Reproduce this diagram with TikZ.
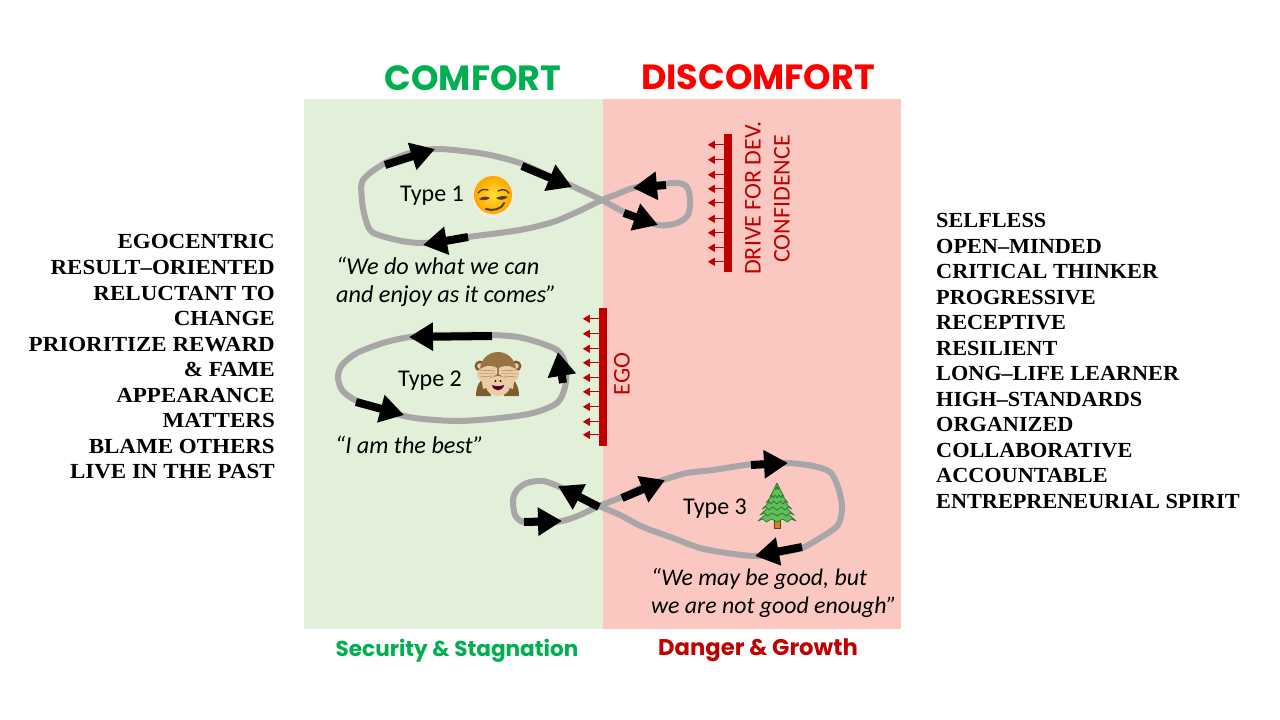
\documentclass[tikz,border=0pt]{standalone}
\usepackage{fontspec}
\usetikzlibrary{arrows.meta}
\setmainfont{Carlito}
\newfontfamily\headfont{Poppins}
\newfontfamily\listfontL[FakeStretch=1.07]{Liberation Serif Bold}
\newfontfamily\listfontR[FakeStretch=1.035]{Liberation Serif Bold}
\definecolor{panelgreen}{HTML}{E2F0D9}
\definecolor{panelred}{HTML}{FBC8C1}
\definecolor{okgreen}{HTML}{00B050}
\definecolor{darkred}{HTML}{C00000}
\definecolor{loopgrey}{HTML}{A8A6A6}
\definecolor{fur}{HTML}{9A7342}
\definecolor{furdark}{HTML}{7F5C30}
\definecolor{skin}{HTML}{EBCDA5}
\definecolor{treelight}{HTML}{62BF55}
\definecolor{treedark}{HTML}{2F7A3A}
\definecolor{faceink}{HTML}{5A3A12}
\tikzset{
  x=1pt,y=-1pt,
  loopline/.style={draw=loopgrey,line width=6pt,line join=round,line cap=round},
  blackarrow/.style={draw=black,line width=8pt,-{Triangle[length=24pt,width=27pt]}},
  redarrow/.style={draw=darkred,line width=1pt,-{Triangle[length=7pt,width=8pt]}},
  redbar/.style={fill=darkred,draw=none,inner sep=0pt,minimum width=8pt},
  typelabel/.style={font=\fontsize{24}{26}\selectfont,inner sep=0pt},
  quotelabel/.style={font=\fontsize{24.2}{28.5}\selectfont\itshape,anchor=west,align=left,inner sep=0pt},
  listlabel/.style={font=\fontsize{21.5}{25.55}\selectfont,inner sep=0pt},
  headlabel/.style={font=\fontsize{35}{37}\selectfont\headfont\bfseries,inner sep=0pt},
  footlabel/.style={font=\headfont\bfseries,inner sep=0pt},
  barlabel/.style={font=\fontsize{24}{26}\selectfont,text=darkred,rotate=90,inner sep=0pt},
}
\begin{document}
\begin{tikzpicture}
\useasboundingbox[fill=white] (0,0) rectangle (1280,720);
\fill[panelgreen] (304,99) rectangle (603,629);
\fill[panelred] (603,99) rectangle (901,629);

\node[headlabel,text=okgreen] (comfort) at (473,78) {COMFORT};
\node[headlabel,text=red] (discomfort) at (758,77) {DISCOMFORT};
\node[footlabel,text=okgreen] (security) at (457,651) {\fontsize{21.6}{24}\selectfont Security \& Stagnation};
\node[footlabel,text=darkred] (danger) at (758,650) {\fontsize{22.7}{24}\selectfont Danger \& Growth};

% Type 1 loop
\draw[loopline] plot[smooth,tension=0.5] coordinates {
 (602,200)(630,215)(658,225)(677,223)(688,215)(690,200)(687,187)(677,183)(653,185)(633,188)(615,195)
 (602,200)(577,212)(553,222)(520,230)(468,237)(443,241)(420,243)(397,240)(372,232)(365,217)(362,200)
 (363,180)(385,163)(413,152)(437,149)(463,151)(490,155)(520,163)(547,175)(572,186)(602,200)};
\draw[blackarrow] (385,165) -- (435,149);
\draw[blackarrow] (522,166) -- (572,187);
\draw[blackarrow] (624,213) -- (658,225);
\draw[blackarrow] (666,185) -- (633,188);
\draw[blackarrow] (468,237) -- (423,245);

% Type 2 loop
\draw[loopline] plot[smooth cycle,tension=0.5] coordinates {
 (338,377)(342,365)(357,353)(383,343)(410,337)(443,335)(492,335)(523,338)(557,350)(566,367)(565,387)
 (557,403)(533,413)(500,418)(460,421)(423,419)(400,415)(377,407)(355,400)(342,390)};
\draw[blackarrow] (492,336) -- (409,337);
\draw[blackarrow] (563,383) -- (558,352);
\draw[blackarrow] (356,402) -- (404,415);

% Type 3 loop
\draw[loopline] plot[smooth,tension=0.5] coordinates {
 (599,506)(620,515)(643,527)(673,538)(700,548)(727,553)(755,556)(780,553)(802,548)(820,538)(838,525)
 (842,507)(838,487)(830,472)(813,466)(787,463)(753,464)(713,470)(687,473)(663,480)(640,488)(622,497)
 (599,506)(580,515)(562,521)(540,523)(523,522)(515,515)(513,500)(517,490)(527,483)(543,481)(560,487)
 (580,497)(599,506)};
\draw[blackarrow] (622,498) -- (665,480);
\draw[blackarrow] (751,465) -- (788,463);
\draw[blackarrow] (802,547) -- (755,556);
\draw[blackarrow] (599,507) -- (558,486);
\draw[blackarrow] (524,522) -- (562,521);

% Bars
\node[redbar,minimum height=138pt] (egobar) at (603,377) {};
\node[redbar,minimum height=138pt] (drivebar) at (728,203) {};
\foreach \d in {11,26,41,55,70,84,99,114,127}
  \draw[redarrow] ([yshift=-\d pt]egobar.north west) -- ++(-16,0);
\foreach \d in {11,26,41,55,69,85,99,114,128}
  \draw[redarrow] ([yshift=-\d pt]drivebar.north west) -- ++(-16,0);
\node[barlabel] (ego) at (622,374) {EGO};
\node[barlabel] (drive) at (753,198) {DRIVE FOR DEV.};
\node[barlabel] (confidence) at (782,199) {CONFIDENCE};

% Labels
\node[typelabel] (t1) at (432,196) {Type 1};
\node[typelabel] (t2) at (430,381) {Type 2};
\node[typelabel] (t3) at (715,509) {Type 3};
\node[quotelabel] (q1) at (336,282) {“We do what we can\\and enjoy as it comes”};
\node[quotelabel] (q2) at (335,445) {“I am the best”};
\node[quotelabel,font=\fontsize{23.8}{28.5}\selectfont\itshape] (q3) at (651,593) {“We may be good, but\\ we are not good enough”};

% Lists
\node[listlabel,anchor=east,align=right,font=\fontsize{21.5}{25.55}\selectfont\listfontL] (leftlist) at (275,357) {EGOCENTRIC\\RESULT–ORIENTED\\RELUCTANT TO\\CHANGE\\PRIORITIZE REWARD\\\& FAME\\APPEARANCE\\MATTERS\\BLAME OTHERS\\LIVE IN THE PAST};
\node[listlabel,anchor=west,align=left,font=\fontsize{21.5}{25.55}\selectfont\listfontR] (rightlist) at (936,361) {SELFLESS\\OPEN–MINDED\\CRITICAL THINKER\\PROGRESSIVE\\RECEPTIVE\\RESILIENT\\LONG–LIFE LEARNER\\HIGH–STANDARDS\\ORGANIZED\\COLLABORATIVE\\ACCOUNTABLE\\ENTREPRENEURIAL SPIRIT};

% Smirking face
\begin{scope}[shift={(493,197)}]
  \fill[white!85!orange] (0,0) circle (20.5);
  \shade[inner color=yellow!70!orange!80!white,outer color=orange!70!yellow] (0,-2) circle (19);
  \fill[faceink] (-14,2) .. controls (-10,-1) and (-6,-1) .. (-3,1) .. controls (-6,3.5) and (-11,4) .. (-14,2) -- cycle;
  \fill[faceink] (3,1) .. controls (7,-1) and (11,-1.5) .. (15,0) .. controls (11,3.5) and (6,3.5) .. (3,1) -- cycle;
  \draw[line width=1.4pt,draw=faceink,line cap=round] (-15,-4) .. controls (-12,-8) and (-8,-8) .. (-5,-7);
  \draw[line width=1.4pt,draw=faceink,line cap=round] (5,-6) .. controls (9,-8) and (13,-8) .. (16,-4);
  \draw[line width=2pt,draw=faceink,line cap=round] (-7,12) .. controls (-1,14) and (8,13) .. (11,6);
\end{scope}

% See-no-evil monkey
\begin{scope}[shift={(497,377)}]
  \fill[furdark] (-21,19) .. controls (-21,9) and (-17,2) .. (-10,0) -- (-6,19) -- cycle;
  \fill[furdark] (22,19) .. controls (22,9) and (18,2) .. (11,0) -- (7,19) -- cycle;
  \fill[furdark] (-17,-11) circle (5.5) (19,-11) circle (5.5);
  \fill[skin] (-17,-11) circle (2.8) (19,-11) circle (2.8);
  \fill[fur] (1,-7) circle (18);
  \fill[skin] (1,9) ellipse (12 and 10);
  \foreach \s in {-1,1}{
    \begin{scope}[xshift=1pt,xscale=\s]
    \fill[skin] (1,-9) .. controls (8,-13) and (16,-11) .. (21,-5) .. controls (22,-1) and (20,3) .. (16,5) -- (15,12) -- (9,10) -- (8,1) .. controls (6,0) and (3,-1) .. (1,-3) -- cycle;
    \draw[fur,line width=0.4pt] (3,-6) -- (18,-7) (3,-3.5) -- (19,-3.5) (6,-1) -- (18,0);
    \end{scope}}
  \fill[black!80!fur] (-1.5,4) circle (1.1) (3.5,4) circle (1.1);
  \fill[black!60!red!80!blue] (-5,8) .. controls (-2,9.5) and (4,9.5) .. (7,8) .. controls (6,15) and (-4,15) .. (-5,8) -- cycle;
\end{scope}

% Tree
\begin{scope}[shift={(777,506)}]
  \fill[brown!70!orange,draw=brown!50!black,line width=0.6pt] (-3,13) rectangle (3,22);
  \foreach \yt/\yb/\w in {-2/15/19,-7/9/17,-12/3/14.5,-17/-3/11,-23/-9/7}{
    \filldraw[fill=treelight,draw=treedark,line width=0.8pt,line join=round]
      (0,\yt) -- (\w,\yb) -- (\w*0.75,\yb-2) -- (\w*0.55,\yb+1) -- (\w*0.3,\yb-2) -- (0,\yb+1)
      -- (-\w*0.3,\yb-2) -- (-\w*0.55,\yb+1) -- (-\w*0.75,\yb-2) -- (-\w,\yb) -- cycle;
    \fill[treedark] (0,\yt+2) -- (\w*0.35,\yt+7) -- (0,\yt+6) -- (-\w*0.35,\yt+7) -- cycle;
  }
\end{scope}
\end{tikzpicture}
\end{document}
